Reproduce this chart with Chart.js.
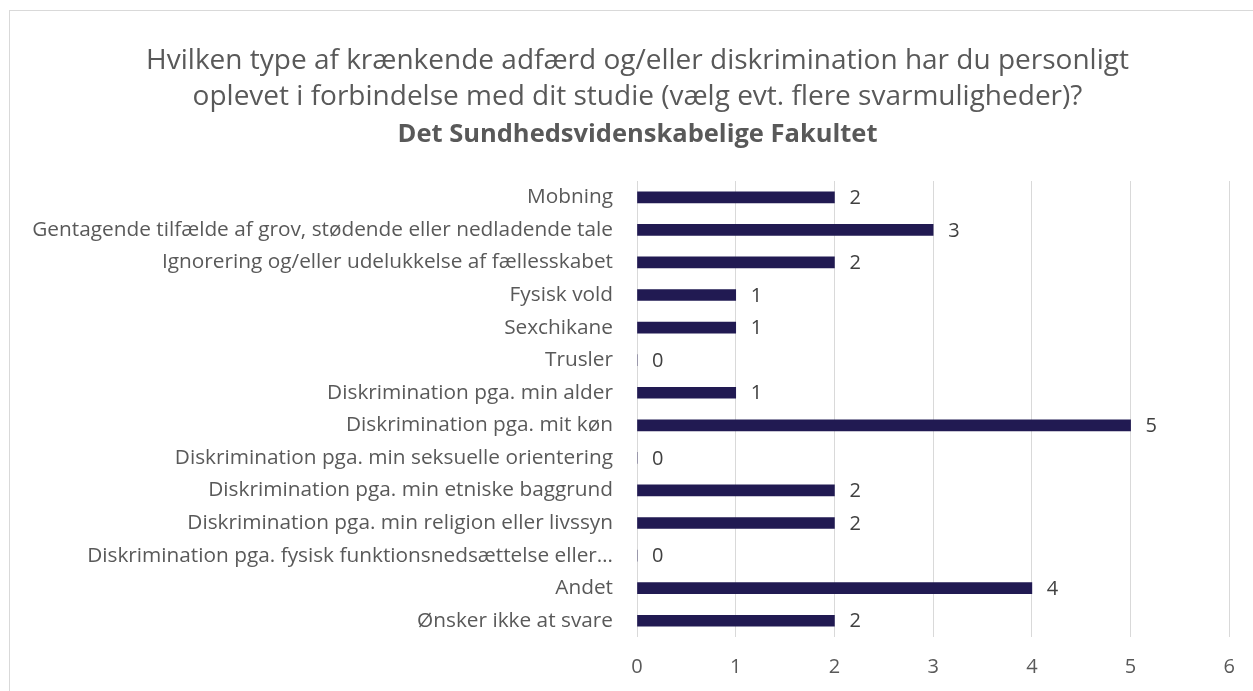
<!DOCTYPE html>
<html><head><meta charset="utf-8">
<script src="https://cdn.jsdelivr.net/npm/chart.js@4.4.0/dist/chart.umd.min.js"></script>
<style>
html,body{margin:0;padding:0;background:#fff;}
#frame{position:absolute;left:9px;top:10px;width:1260px;height:700px;border:1px solid #d9d9d9;box-sizing:border-box;}
#wrap{position:absolute;left:0;top:0;width:1253px;height:691px;}
</style></head>
<body>
<div id="frame"></div>
<div id="wrap"><canvas id="c" width="1253" height="691"></canvas></div>
<script>
const categories = [
  "Mobning",
  "Gentagende tilfælde af grov, stødende eller nedladende tale",
  "Ignorering og/eller udelukkelse af fællesskabet",
  "Fysisk vold",
  "Sexchikane",
  "Trusler",
  "Diskrimination pga. min alder",
  "Diskrimination pga. mit køn",
  "Diskrimination pga. min seksuelle orientering",
  "Diskrimination pga. min etniske baggrund",
  "Diskrimination pga. min religion eller livssyn",
  "Diskrimination pga. fysisk funktionsnedsættelse eller…",
  "Andet",
  "Ønsker ikke at svare"
];
const values = [2, 3, 2, 1, 1, 0, 1, 5, 0, 2, 2, 0, 4, 2];
const xTicks = [0, 1, 2, 3, 4, 5, 6];
const titleLines = [
  "Hvilken type af krænkende adfærd og/eller diskrimination har du personligt",
  "oplevet i forbindelse med dit studie (vælg evt. flere svarmuligheder)?"
];
const subtitleText = "Det Sundhedsvidenskabelige Fakultet";

const FONT = "'Open Sans', 'Noto Sans', sans-serif";

const valueLabels = {
  id: 'valueLabels',
  afterDatasetsDraw(chart) {
    const ctx = chart.ctx;
    const meta = chart.getDatasetMeta(0);
    ctx.save();
    ctx.font = "20px " + FONT;
    ctx.fillStyle = "#404040";
    ctx.textAlign = "left";
    ctx.textBaseline = "middle";
    meta.data.forEach((bar, i) => {
      ctx.fillText(String(values[i]), bar.x + 15, bar.y + 1);
    });
    ctx.restore();
  }
};

// let the category labels use the space left of the layout padding (no clipping)
const widenLabelArea = {
  id: 'widenLabelArea',
  afterLayout(chart) { chart.scales.y.left = 0; }
};

new Chart(document.getElementById('c'), {
  type: 'bar',
  data: {
    labels: categories,
    datasets: [{
      data: values,
      backgroundColor: '#211a52',
      barThickness: 11
    }]
  },
  options: {
    indexAxis: 'y',
    responsive: false,
    animation: false,
    layout: { padding: { left: 45, right: 23, top: 0, bottom: 0 } },
    plugins: {
      legend: { display: false },
      tooltip: { enabled: false },
      title: {
        display: true,
        text: titleLines,
        color: '#595959',
        font: { family: FONT, size: 28, weight: 'normal', lineHeight: 1.28 },
        padding: { top: 43, bottom: 0 }
      },
      subtitle: {
        display: true,
        text: subtitleText,
        color: '#595959',
        font: { family: FONT, size: 25.5, weight: 'bold', lineHeight: 1.3 },
        padding: { top: 3.5, bottom: 29.7 }
      }
    },
    scales: {
      x: {
        min: 0, max: 6,
        afterBuildTicks(axis) { axis.ticks = xTicks.map(v => ({ value: v })); },
        grid: { color: '#d9d9d9', drawTicks: false, lineWidth: 1 },
        border: { display: false },
        ticks: { color: '#595959', font: { family: FONT, size: 20 }, padding: 18, maxRotation: 0 },
        afterFit(axis) { axis.height = 54; }
      },
      y: {
        grid: { display: false, drawTicks: false },
        border: { display: false },
        ticks: { color: '#595959', font: { family: FONT, size: 20.8 }, padding: 24, autoSkip: false },
        afterFit(axis) { axis.width = 592; }
      }
    }
  },
  plugins: [valueLabels, widenLabelArea]
});
</script>
</body></html>
